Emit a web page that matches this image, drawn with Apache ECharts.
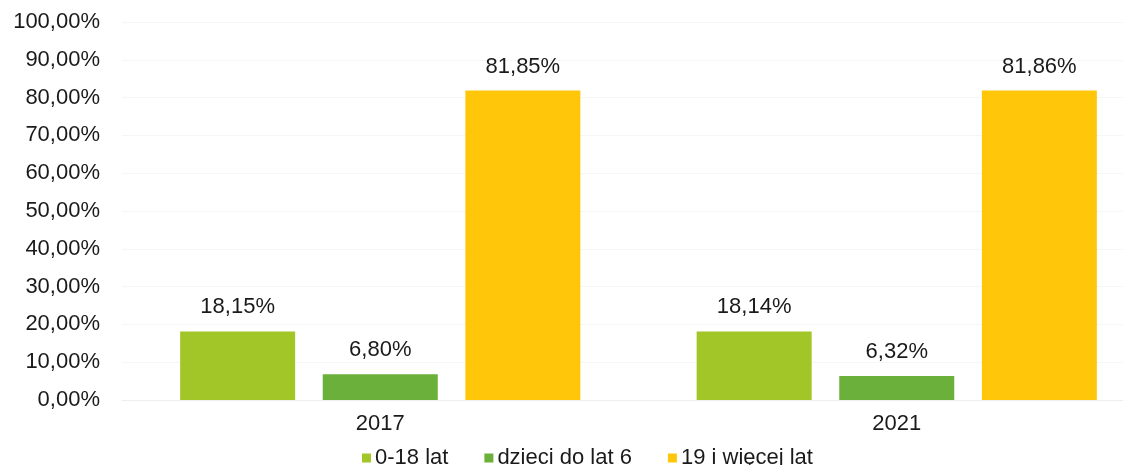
<!DOCTYPE html>
<html><head><meta charset="utf-8">
<script src="https://cdn.jsdelivr.net/npm/echarts@6/dist/echarts.min.js"></script>
<style>html,body{margin:0;padding:0;background:#fff}#c{width:1123px;height:465px}</style>
</head><body><div id="c"></div>
<script>
const categories = ['2017', '2021'];
const seriesNames = ['0-18 lat', 'dzieci do lat 6', '19 i więcej lat'];
const values0_18 = [18.15, 18.14];
const valuesKids6 = [6.80, 6.32];
const values19plus = [81.85, 81.86];
const colors = ['#a2c627', '#6ab03a', '#ffc60a'];
const fmt = v => v.toFixed(2).replace('.', ',') + '%';
const font = 'Arial, "Liberation Sans", sans-serif';
const chart = echarts.init(document.getElementById('c'));
const mk = (name, data, color) => ({
  name, type: 'bar', data, barWidth: 115, barGap: '24%',
  itemStyle: { color },
  label: { show: true, position: 'top', distance: 13, formatter: p => fmt(p.value),
    color: '#1a1a1a', fontSize: 22, fontFamily: font }
});
chart.setOption({
  animation: false,
  grid: { left: 122, width: 1033, top: 22, height: 378, outerBoundsMode: 'none', containLabel: false },
  legend: { top: 442, left: 357, itemWidth: 9, itemHeight: 9, itemGap: 36,
    icon: 'rect', textStyle: { fontSize: 22, color: '#1a1a1a', fontFamily: font, padding: [0,0,0,-1] },
    data: seriesNames },
  xAxis: { type: 'category', data: categories,
    axisLine: { lineStyle: { color: '#eeeeee' } }, axisTick: { show: false },
    axisLabel: { fontSize: 22, color: '#1a1a1a', fontFamily: font, margin: 13 } },
  yAxis: { type: 'value', min: 0, max: 100, interval: 10,
    axisLabel: { formatter: v => fmt(v), fontSize: 22, color: '#1a1a1a', fontFamily: font, margin: 22 },
    splitLine: { lineStyle: { color: '#f6f6f6' } }, axisLine: { show: false } },
  series: [mk(seriesNames[0], values0_18, colors[0]), mk(seriesNames[1], valuesKids6, colors[1]), mk(seriesNames[2], values19plus, colors[2])]
});
</script></body></html>
